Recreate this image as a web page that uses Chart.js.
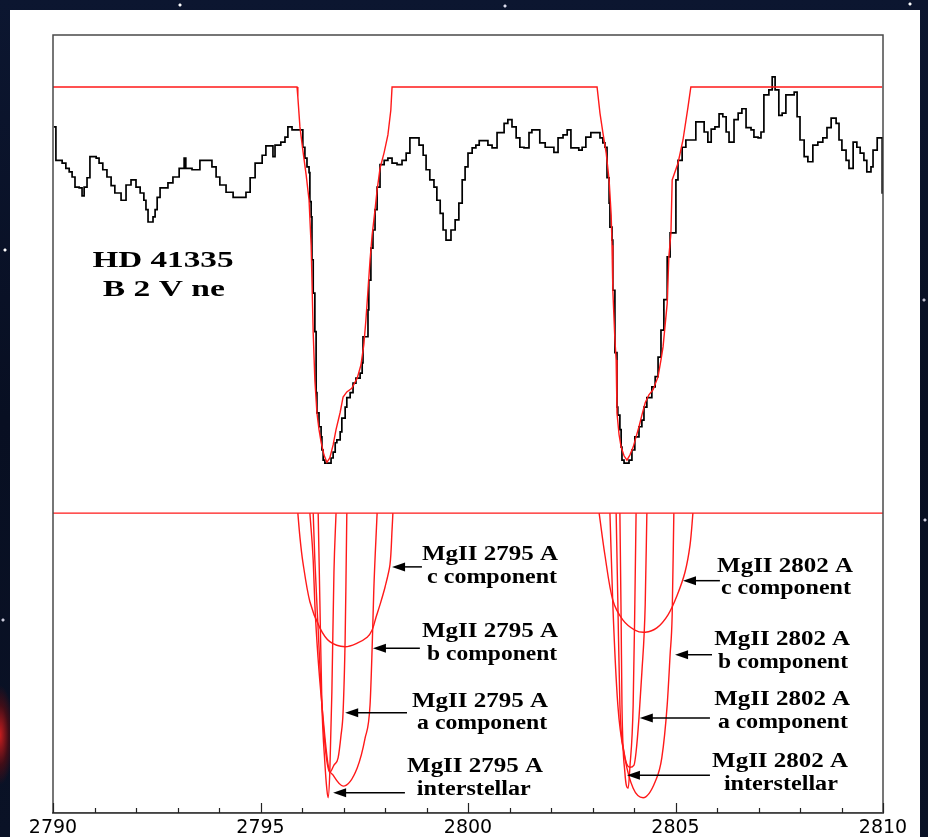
<!DOCTYPE html>
<html>
<head>
<meta charset="utf-8">
<script src="https://cdn.jsdelivr.net/npm/chart.js@4.4.1/dist/chart.umd.min.js"></script>
<style>
  html, body { margin: 0; padding: 0; }
  body {
    width: 928px; height: 837px; overflow: hidden; position: relative;
    background:
      radial-gradient(ellipse 14px 50px at 0px 735px, rgba(210,30,30,0.95), rgba(120,10,10,0.5) 60%, transparent 100%),
      radial-gradient(circle at 5px 250px, #fff 0, #fff 1px, transparent 2px),
      radial-gradient(circle at 3px 620px, #ccd 0, #ccd 1px, transparent 2px),
      radial-gradient(circle at 180px 5px, #fff 0, #fff 1px, transparent 2px),
      radial-gradient(circle at 505px 6px, #dde 0, #dde 1px, transparent 2px),
      radial-gradient(circle at 910px 4px, #fff 0, #fff 1px, transparent 2px),
      radial-gradient(circle at 924px 300px, #bbc 0, #bbc 1px, transparent 2px),
      radial-gradient(circle at 925px 520px, #ccd 0, #ccd 1px, transparent 2px),
      linear-gradient(180deg, #0c1630 0%, #080f22 50%, #0a1226 100%);
  }
  #panel { position: absolute; left: 10px; top: 10px; width: 910px; height: 827px; background: #fff; }
  #spec { position: absolute; left: 0; top: 0; }
</style>
</head>
<body>
<div id="panel"><canvas id="spec" width="910" height="827"></canvas></div>
<script>
// observed spectrum (wavelength in A, relative flux)
const obsWl = [2790.02,2790.07,2790.22,2790.31,2790.39,2790.46,2790.53,2790.63,2790.70,2790.75,2790.82,2790.89,
  2791.04,2791.11,2791.20,2791.30,2791.40,2791.49,2791.64,2791.76,2791.88,2792.00,2792.10,2792.19,2792.24,2792.29,
  2792.41,2792.46,2792.51,2792.58,2792.77,2792.89,2793.04,2793.16,2793.20,2793.35,2793.54,2793.83,2793.93,2794.02,
  2794.17,2794.34,2794.65,2794.75,2794.87,2795.04,2795.13,2795.30,2795.35,2795.49,2795.59,2795.66,2795.76,2796.02,
  2796.07,2796.12,2796.17,2796.19,2796.22,2796.24,2796.27,2796.31,2796.34,2796.36,2796.41,2796.46,2796.48,2796.51,
  2796.55,2796.70,2796.75,2796.80,2796.84,2796.92,2796.96,2797.04,2797.08,2797.16,2797.23,2797.30,2797.40,2797.45,
  2797.47,2797.59,2797.61,2797.66,2797.71,2797.76,2797.81,2797.88,2797.98,2798.07,2798.17,2798.29,2798.41,2798.51,
  2798.60,2798.82,2798.92,2798.99,2799.08,2799.18,2799.25,2799.33,2799.40,2799.47,2799.59,2799.69,2799.78,2799.86,
  2799.93,2800.00,2800.10,2800.19,2800.27,2800.48,2800.58,2800.70,2800.87,2800.96,2801.06,2801.16,2801.25,2801.35,
  2801.47,2801.54,2801.73,2801.86,2802.07,2802.17,2802.29,2802.39,2802.48,2802.67,2802.75,2802.84,2802.96,2803.18,
  2803.25,2803.30,2803.35,2803.40,2803.42,2803.47,2803.49,2803.54,2803.59,2803.61,2803.66,2803.69,2803.71,2803.76,
  2803.88,2803.95,2804.02,2804.12,2804.19,2804.24,2804.31,2804.43,2804.51,2804.58,2804.65,2804.72,2804.80,2804.87,
  2805.01,2805.06,2805.16,2805.25,2805.49,2805.69,2805.78,2805.86,2805.95,2806.05,2806.14,2806.22,2806.29,2806.41,
  2806.51,2806.60,2806.70,2806.82,2806.89,2806.99,2807.06,2807.13,2807.25,2807.33,2807.40,2807.49,2807.57,2807.66,
  2807.86,2807.93,2808.00,2808.10,2808.19,2808.31,2808.43,2808.55,2808.65,2808.75,2808.87,2808.94,2809.01,2809.11,
  2809.18,2809.28,2809.37,2809.45,2809.54,2809.61,2809.71,2809.76,2809.86,2809.98,2810.00];
const obsFlux = [.945,.899,.895,.888,.883,.876,.862,.861,.850,.862,.875,.904,
  .902,.895,.886,.876,.864,.854,.844,.865,.872,.862,.854,.844,.831,.814,
  .821,.831,.848,.861,.868,.876,.888,.902,.888,.886,.899,.890,.876,.865,
  .855,.848,.855,.875,.895,.906,.919,.904,.920,.924,.931,.945,.941,.917,
  .902,.890,.882,.842,.821,.762,.716,.663,.579,.551,.532,.518,.500,.486,
  .482,.489,.497,.510,.514,.525,.544,.559,.572,.579,.592,.599,.606,.620,
  .656,.693,.734,.778,.803,.831,.862,.893,.899,.902,.895,.893,.899,.909,
  .930,.920,.906,.886,.872,.862,.844,.826,.803,.789,.803,.817,.840,.872,
  .890,.909,.916,.920,.926,.920,.916,.937,.950,.955,.945,.930,.917,.916,
  .937,.941,.923,.917,.910,.930,.934,.941,.916,.913,.917,.931,.937,.930,
  .923,.917,.875,.840,.807,.789,.720,.634,.559,.548,.528,.504,.486,.482,
  .486,.500,.518,.532,.541,.559,.572,.587,.601,.628,.665,.707,.766,.799,
  .872,.899,.917,.927,.952,.938,.924,.942,.945,.963,.959,.938,.924,.955,
  .964,.970,.944,.941,.931,.930,.938,.989,.996,1.014,.996,.961,.964,.989,
  .993,.959,.927,.904,.897,.920,.924,.930,.944,.957,.950,.927,.913,.899,
  .888,.924,.917,.909,.899,.883,.890,.913,.930,.854,.854];

// model fit of the two MgII absorptions
const fitWl = [2790.00,2795.88,2795.90,2795.95,2796.02,2796.10,2796.17,2796.22,2796.27,2796.31,2796.36,2796.41,
  2796.46,2796.53,2796.60,2796.67,2796.75,2796.82,2796.92,2796.99,2797.08,2797.20,2797.33,2797.42,2797.49,2797.54,
  2797.59,2797.64,2797.69,2797.76,2797.81,2797.88,2797.98,2798.07,2798.14,2798.17,2803.11,2803.18,2803.25,2803.33,
  2803.40,2803.45,2803.47,2803.49,2803.54,2803.57,2803.59,2803.64,2803.69,2803.76,2803.83,2803.90,2803.98,2804.05,
  2804.12,2804.19,2804.27,2804.36,2804.46,2804.58,2804.65,2804.70,2804.75,2804.80,2804.84,2804.89,2804.92,2805.06,
  2805.18,2805.30,2805.37,2809.98];
const fitFlux = [1.000,1.000,.986,.945,.913,.879,.844,.782,.661,.596,.551,.528,
  .511,.493,.483,.489,.507,.528,.552,.573,.580,.585,.599,.617,.645,.679,
  .720,.762,.796,.831,.858,.888,.910,.934,.968,1.000,1.000,.964,.937,.909,
  .872,.824,.782,.720,.652,.624,.551,.521,.504,.492,.486,.493,.504,.518,
  .532,.548,.565,.576,.583,.601,.624,.642,.672,.702,.766,.799,.872,.895,
  .927,.972,1.000,1.000];

// individual absorption components, offset panel: [wavelength, flux]
const baseline = [[2790, .413], [2810, .413]];
const mg2795c = [[2795.90,.413],[2795.95,.380],[2796.02,.346],[2796.19,.291],[2796.43,.255],[2796.67,.236],[2797.04,.229],
  [2797.33,.234],[2797.57,.242],[2797.69,.252],[2797.78,.269],[2797.88,.287],[2798.00,.311],[2798.12,.342],[2798.17,.390],[2798.19,.413]];
const mg2795b = [[2796.19,.413],[2796.27,.348],[2796.31,.287],[2796.39,.211],[2796.48,.149],[2796.63,.066],[2796.75,.052],
  [2796.99,.037],[2797.33,.062],[2797.52,.103],[2797.64,.149],[2797.69,.227],[2797.73,.307],[2797.81,.413]];
const mg2795a = [[2796.27,.413],[2796.31,.348],[2796.39,.252],[2796.48,.149],[2796.58,.080],[2796.67,.056],[2796.77,.066],
  [2796.87,.076],[2796.94,.107],[2796.99,.139],[2797.04,.241],[2797.06,.321],[2797.08,.413]];
const mg2795is = [[2796.39,.413],[2796.43,.293],[2796.48,.149],[2796.55,.070],[2796.60,.032],[2796.63,.021],[2796.67,.056],
  [2796.72,.167],[2796.77,.332],[2796.82,.413]];
const mg2802c = [[2803.16,.413],[2803.30,.355],[2803.49,.293],[2803.73,.266],[2804.02,.252],[2804.27,.249],
  [2804.55,.255],[2804.82,.273],[2805.04,.300],[2805.23,.332],[2805.35,.369],[2805.42,.413]];
const mg2802b = [[2803.42,.413],[2803.49,.287],[2803.61,.149],[2803.78,.076],[2803.98,.034],[2804.22,.021],[2804.51,.043],
  [2804.67,.076],[2804.80,.149],[2804.87,.218],[2804.92,.273],[2804.96,.413]];
const mg2802a = [[2803.57,.413],[2803.61,.293],[2803.66,.149],[2803.76,.084],[2803.90,.063],[2804.00,.066],[2804.05,.084],
  [2804.12,.131],[2804.19,.194],[2804.27,.287],[2804.31,.413]];
const mg2802is = [[2803.66,.413],[2803.69,.266],[2803.71,.149],[2803.78,.056],[2803.86,.034],[2803.90,.062],[2803.98,.149],
  [2804.02,.287],[2804.05,.413]];

const xTicks = [2790, 2795, 2800, 2805, 2810];

// labels: text lines, centre position (data units), arrow tail -> tip
const notes = [
  { l1: "MgII 2795 A", l2: "c component", x1: 2800.53, y1: .355, x2: 2800.58, y2: .324, ay: .339, ax0: 2798.89, ax1: 2798.17 },
  { l1: "MgII 2795 A", l2: "b component", x1: 2800.53, y1: .249, x2: 2800.58, y2: .218, ay: .227, ax0: 2798.84, ax1: 2797.71 },
  { l1: "MgII 2795 A", l2: "a component", x1: 2800.29, y1: .153, x2: 2800.34, y2: .123, ay: .138, ax0: 2798.53, ax1: 2797.04 },
  { l1: "MgII 2795 A", l2: "interstellar", x1: 2800.17, y1: .063, x2: 2800.14, y2: .032, ay: .028, ax0: 2798.48, ax1: 2796.75 },
  { l1: "MgII 2802 A", l2: "c component", x1: 2807.64, y1: .339, x2: 2807.66, y2: .309, ay: .320, ax0: 2806.07, ax1: 2805.18 },
  { l1: "MgII 2802 A", l2: "b component", x1: 2807.57, y1: .238, x2: 2807.59, y2: .207, ay: .218, ax0: 2805.88, ax1: 2804.99 },
  { l1: "MgII 2802 A", l2: "a component", x1: 2807.57, y1: .156, x2: 2807.59, y2: .124, ay: .131, ax0: 2805.83, ax1: 2804.14 },
  { l1: "MgII 2802 A", l2: "interstellar", x1: 2807.52, y1: .070, x2: 2807.54, y2: .039, ay: .052, ax0: 2805.83, ax1: 2803.83 }
];

const pts = (wl, fl) => wl.map((w, i) => ({ x: w, y: fl[i] }));
const pairs = (arr) => arr.map(p => ({ x: p[0], y: p[1] }));

// curve: 0 = straight segments, "mono" = monotone cubic, number = bezier tension
const redLine = (data, curve) => ({
  data: data,
  borderColor: "rgb(255,25,25)",
  borderWidth: 1.4,
  pointRadius: 0,
  showLine: true,
  fill: false,
  order: 0,
  cubicInterpolationMode: curve === "mono" ? "monotone" : "default",
  tension: typeof curve === "number" ? curve : 0
});

// stretch text horizontally to the width it has in the picture
function wideText(ctx, txt, cx, cy, w, size) {
  ctx.font = "bold " + size + "px 'Liberation Serif', 'DejaVu Serif', serif";
  const m = ctx.measureText(txt).width;
  ctx.save();
  ctx.translate(cx, cy);
  ctx.scale(w / m, 1);
  ctx.textAlign = "center";
  ctx.textBaseline = "middle";
  ctx.fillStyle = "#000";
  ctx.fillText(txt, 0, 0);
  ctx.restore();
}

const decor = {
  id: "decor",
  afterDatasetsDraw(chart) {
    const { ctx, chartArea: a, scales: { x, y } } = chart;
    ctx.save();
    // frame
    ctx.strokeStyle = "#4a4a4a";
    ctx.lineWidth = 1.5;
    ctx.strokeRect(a.left, a.top, a.right - a.left, a.bottom - a.top);
    // inward ticks on the wavelength axis
    ctx.lineWidth = 1.2;
    ctx.strokeStyle = "#222";
    for (let v = 2790; v <= 2810; v++) {
      const px = Math.round(x.getPixelForValue(v)) + 0.5;
      const len = v % 5 === 0 ? 10 : 5;
      ctx.beginPath();
      ctx.moveTo(px, a.bottom);
      ctx.lineTo(px, a.bottom - len);
      ctx.stroke();
    }
    // star name
    wideText(ctx, "HD 41335", x.getPixelForValue(2792.65), y.getPixelForValue(.760), 141, 24);
    wideText(ctx, "B 2 V ne", x.getPixelForValue(2792.67), y.getPixelForValue(.720), 122, 24);
    // component labels and arrows
    notes.forEach(n => {
      const w2 = n.l2 === "interstellar" ? 114 : 130;
      wideText(ctx, n.l1, x.getPixelForValue(n.x1), y.getPixelForValue(n.y1), 136, 20);
      wideText(ctx, n.l2, x.getPixelForValue(n.x2), y.getPixelForValue(n.y2), w2, 20);
      const ay = y.getPixelForValue(n.ay);
      const x0 = x.getPixelForValue(n.ax0);
      const x1 = x.getPixelForValue(n.ax1);
      ctx.strokeStyle = "#000";
      ctx.fillStyle = "#000";
      ctx.lineWidth = 1.5;
      ctx.beginPath();
      ctx.moveTo(x0, ay);
      ctx.lineTo(x1 + 10, ay);
      ctx.stroke();
      ctx.beginPath();
      ctx.moveTo(x1, ay);
      ctx.lineTo(x1 + 13, ay - 4.5);
      ctx.lineTo(x1 + 13, ay + 4.5);
      ctx.closePath();
      ctx.fill();
    });
    ctx.restore();
  }
};

new Chart(document.getElementById("spec"), {
  type: "scatter",
  data: {
    datasets: [
      {
        data: pts(obsWl, obsFlux),
        borderColor: "#000",
        borderWidth: 1.7,
        pointRadius: 0,
        showLine: true,
        stepped: true,
        fill: false,
        order: 1
      },
      redLine(pts(fitWl, fitFlux), 0),
      redLine(pairs(baseline), 0),
      redLine(pairs(mg2795c), 0.3),
      redLine(pairs(mg2795b), "mono"),
      redLine(pairs(mg2795a), "mono"),
      redLine(pairs(mg2795is), "mono"),
      redLine(pairs(mg2802c), 0.3),
      redLine(pairs(mg2802b), "mono"),
      redLine(pairs(mg2802a), "mono"),
      redLine(pairs(mg2802is), "mono")
    ]
  },
  options: {
    responsive: false,
    animation: false,
    layout: { padding: { left: 43, right: 37, top: 25, bottom: 0 } },
    plugins: { legend: { display: false }, tooltip: { enabled: false } },
    scales: {
      x: {
        type: "linear",
        min: 2790,
        max: 2810,
        afterFit: (s) => { s.height = 24; },
        afterBuildTicks: (s) => { s.ticks = xTicks.map(v => ({ value: v })); },
        grid: { display: false, drawTicks: false },
        border: { display: true, color: "#333", width: 1.5 },
        ticks: {
          autoSkip: false,
          maxRotation: 0,
          padding: 4,
          color: "#000",
          font: { family: "'DejaVu Sans', sans-serif", size: 19 },
          callback: (v) => String(v)
        }
      },
      y: { display: false, min: 0, max: 1.0716 }
    }
  },
  plugins: [decor]
});
</script>
</body>
</html>
